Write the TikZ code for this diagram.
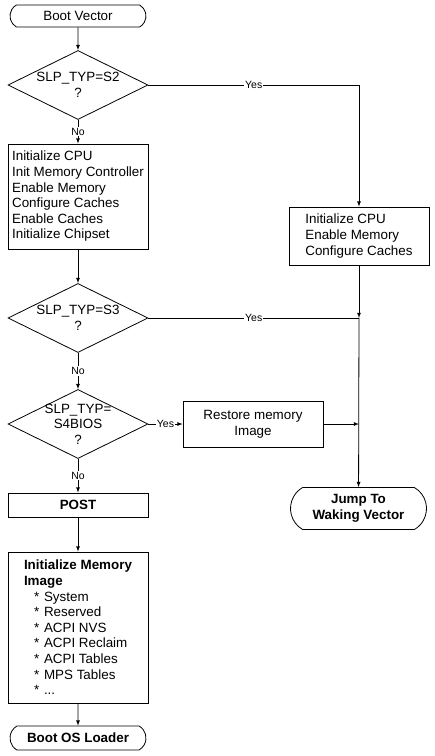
\documentclass[tikz,border=0pt]{standalone}
\usepackage{fontspec}
\setmainfont{Liberation Sans}
\usetikzlibrary{shapes.geometric, shapes.misc}
\newcommand{\memitem}[1]{\hspace*{10pt}\makebox[10pt][l]{*}#1}

\begin{document}
\begin{tikzpicture}[x=1pt,y=-1pt,line width=0.8pt,font=\fontsize{13.4}{15.6}\selectfont]
% Node styles: terminal, box, test and edge label
\tikzstyle{end node}=[rounded rectangle,rounded rectangle arc length=120,draw,minimum width=140pt,inner sep=2pt];
\tikzstyle{box node}=[rectangle,draw,minimum width=140pt,inner sep=4pt];
\tikzstyle{test node}=[diamond,draw,minimum width=140pt,minimum height=69pt,inner sep=0pt];
\tikzstyle{bold text}=[font=\fontsize{13.4}{15.6}\selectfont\bfseries];
\tikzstyle{edge label}=[fill=white,inner sep=1pt,font=\fontsize{10.5}{12}\selectfont];
\tikzstyle{flow}=[draw,-latex];
\useasboundingbox (0,0) rectangle (435,756);
% The left column
\node(boot)[end node,minimum height=22pt]at(78,16){Boot Vector};
\node(s2)[test node,label={[align=center]center:SLP\_TYP=S2\\?}]at(78,85){};
\node(init)[box node,minimum height=105pt,align=left]at(78,196.5){Initialize CPU\\Init Memory Controller\\Enable Memory\\Configure Caches\\Enable Caches\\Initialize Chipset};
\node(s3)[test node,label={[align=center]center:SLP\_TYP=S3\\?}]at(78,318){};
\node(s4)[test node,label={[align=center]center:SLP\_TYP=\\S4BIOS\\?}]at(78,424){};
\node(post)[box node,bold text,minimum height=24pt]at(78,505){POST};
\node(mem)[box node,minimum height=151pt,align=left]at(78,627.5){\textbf{Initialize Memory}\\\textbf{Image}\\\memitem{System}\\\memitem{Reserved}\\\memitem{ACPI NVS}\\\memitem{ACPI Reclaim}\\\memitem{ACPI Tables}\\\memitem{MPS Tables}\\\memitem{...}};
\node(osl)[end node,bold text,minimum height=24pt]at(78,738){Boot OS Loader};
% The wake path
\node(wake)[box node,minimum height=58pt,align=left]at(359,236){Initialize CPU\\Enable Memory\\Configure Caches};
\node(restore)[box node,minimum height=46pt,align=center]at(253,424){Restore memory\\Image};
\node(jump)[end node,bold text,minimum height=42pt,align=center]at(358.5,508.5){Jump To\\Waking Vector};
\coordinate(j3)at(wake.south|-s3.east);
\coordinate(j4)at(wake.south|-s4.east);
% Connectors
\draw[flow](boot)--(s2);
\draw[flow](s2)--node[edge label]{No}(init);
\draw[flow](init)--(s3);
\draw[flow](s3)--node[edge label]{No}(s4);
\draw[flow](s4)--node[edge label]{No}(post);
\draw[flow](post)--(mem);
\draw[flow](mem)--(osl);
\draw[flow](s2.east)-|node[edge label,pos=0.25]{Yes}(wake.north);
\draw[flow](wake)--(j3);
\draw(s3.east)--node[edge label]{Yes}(j3);
\draw[flow](s4)--node[edge label]{Yes}(restore);
\draw[flow](restore)--(j4);
\draw[flow](j3)--(jump);
\end{tikzpicture}
\end{document}
